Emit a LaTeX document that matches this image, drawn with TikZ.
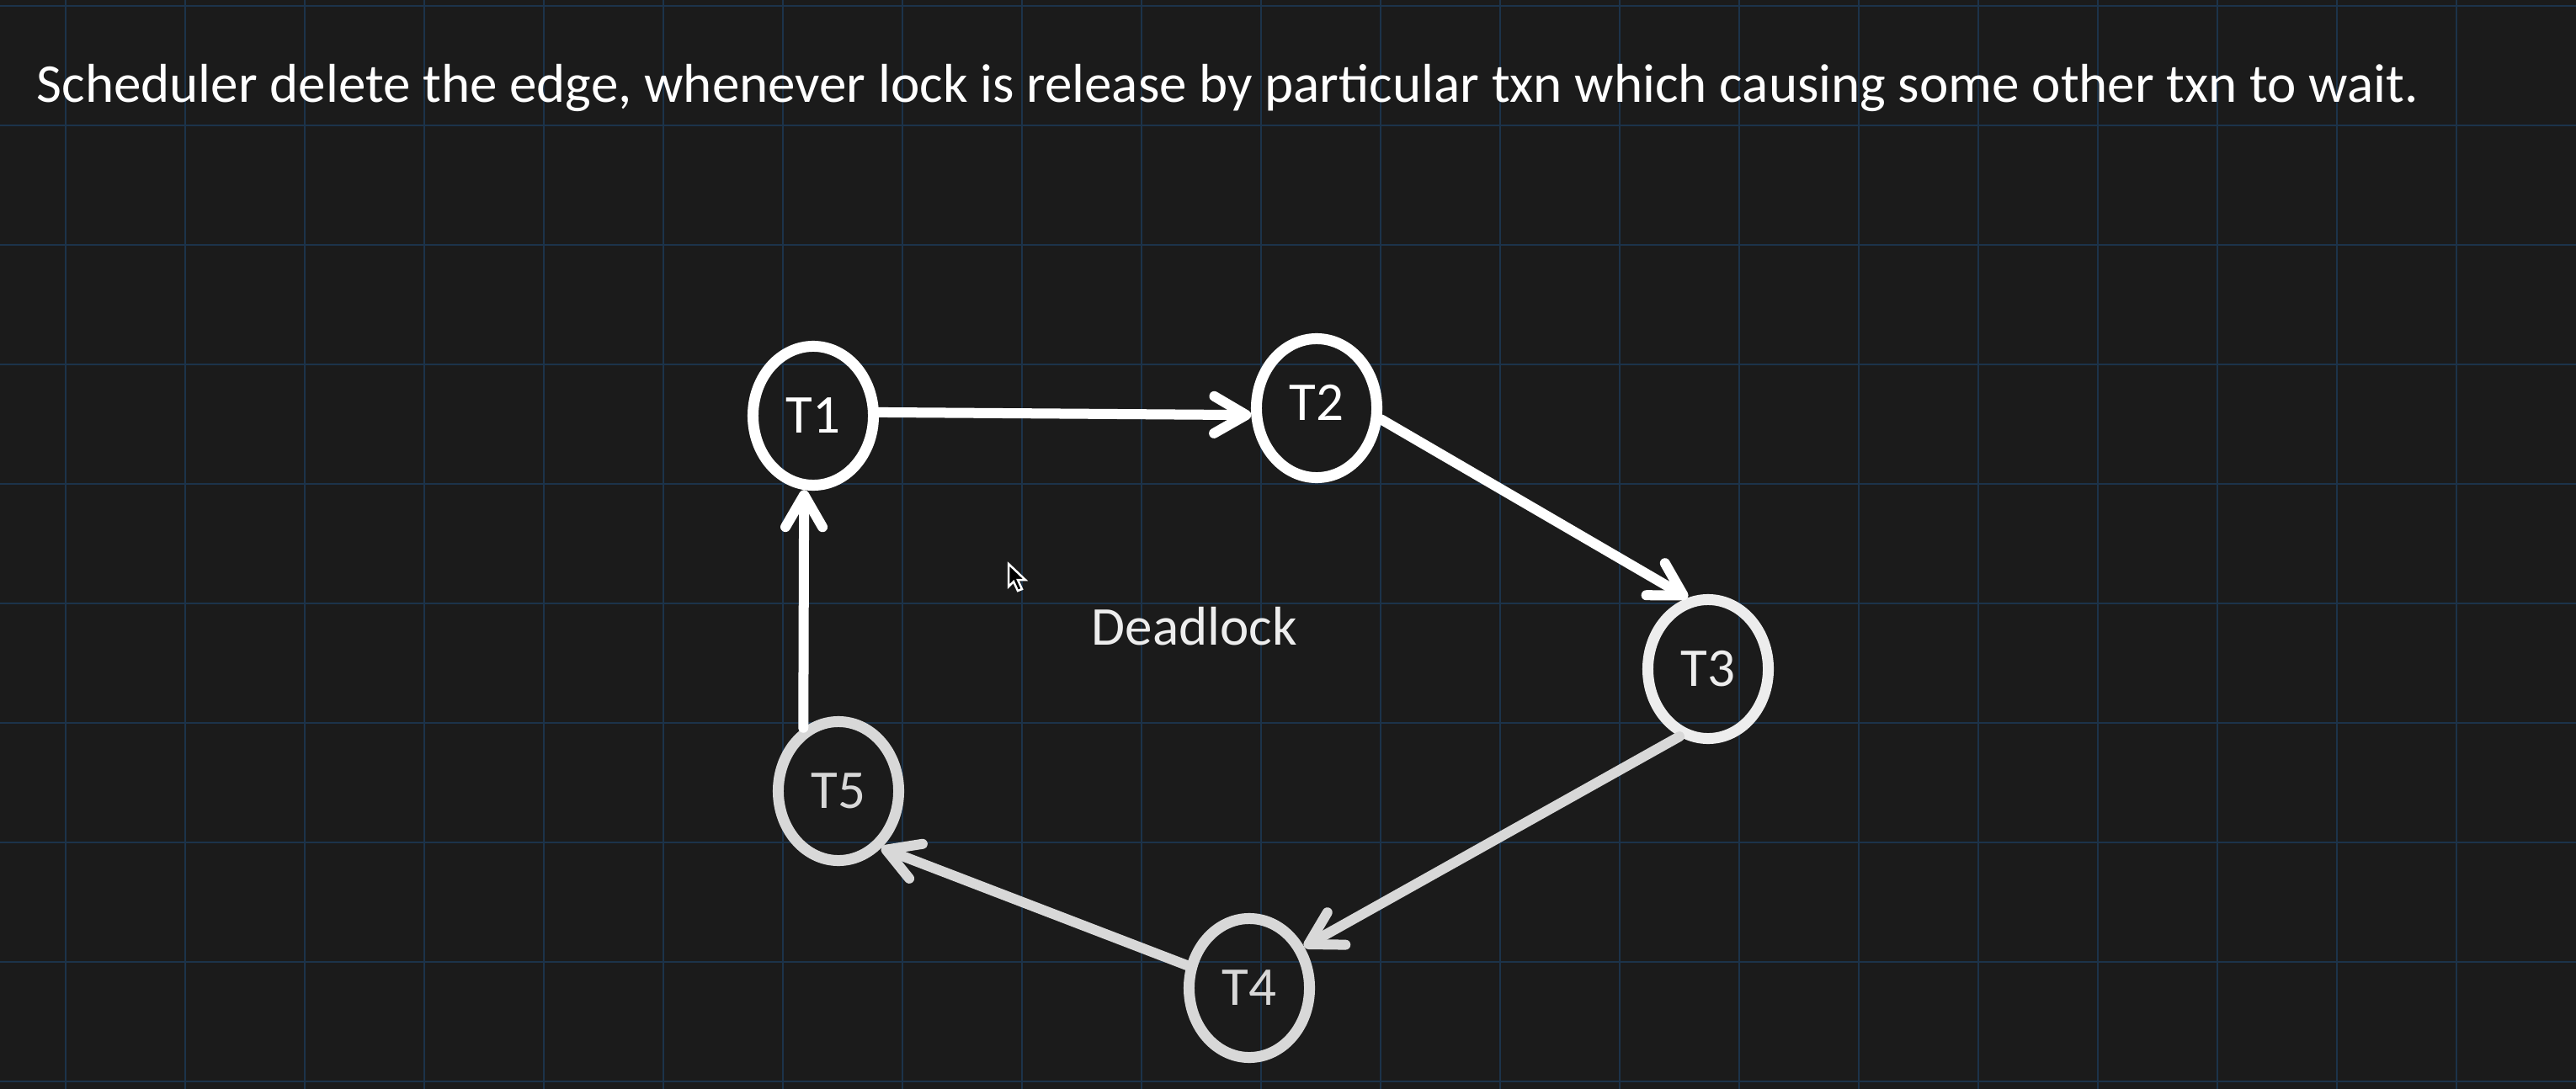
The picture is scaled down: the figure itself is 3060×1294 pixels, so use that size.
\documentclass[tikz,border=0pt]{standalone}
\usepackage{fontspec}
\setmainfont{Carlito}
\usetikzlibrary{shapes.geometric,arrows.meta}
\definecolor{bg}{HTML}{1B1B1B}
\definecolor{gridc}{HTML}{1C334A}
\definecolor{wA}{HTML}{FFFFFF}
\definecolor{wB}{HTML}{EDEDED}
\definecolor{wC}{HTML}{D8D8D8}
\begin{document}
\begin{tikzpicture}[x=0.01cm,y=-0.01cm,
  tnode/.style={ellipse, draw=#1, line width=0.13cm, minimum width=1.43cm,
    minimum height=1.65cm, inner sep=0pt, text=#1,
    font=\fontsize{18.5pt}{20pt}\selectfont},
  edge/.style={draw=#1, line width=0.12cm, line cap=round,
    -{Straight Barb[length=0.38cm,width=0.44cm,round]}},
  txt/.style={inner sep=0pt, text=#1, font=\fontsize{18.5pt}{20pt}\selectfont},
  gridline/.style={draw=gridc, line width=0.025cm}
]
\fill[bg] (0,0) rectangle (3060,1294);
\useasboundingbox (0,0) rectangle (3060,1294);
\foreach \i in {0,...,20} \draw[gridline] ({78+142*\i},0) -- ({78+142*\i},1294);
\foreach \j in {0,...,9} \draw[gridline] (0,{7+142*\j}) -- (3060,{7+142*\j});

\node[txt=wA, anchor=base west] (title) at (43,122)
  {Scheduler delete the edge, whenever lock is release by particular txn which causing some other txn to wait.};

\node[tnode=wA] (T1) at (966,494) {T1};
\node[tnode=wA] (T2) at (1564,485) {\raisebox{4pt}{T2}};
\node[tnode=wB] (T3) at (2029,795) {T3};
\node[tnode=wC] (T4) at (1484,1174) {T4};
\node[tnode=wC] (T5) at (996,940) {T5};

\node[txt=wB] (dl) at (1419,744) {Deadlock};

\draw[edge=wA] (T1.3) -- (T2.186);
\draw[edge=wA] (T2.-10) -- (T3.106);
\draw[edge=wC] (T3.247) -- (T4.37);
\draw[edge=wC] (T4.160) -- (T5.-53);
\draw[edge=wA] (T5.119) -- (T1.-97);

\draw[white, fill=black, line width=0.025cm, line join=miter]
  (1198,670) -- ++(0,27) -- ++(6,-6) -- ++(5,11) -- ++(5,-2) -- ++(-5,-11) -- ++(9,0) -- cycle;
\end{tikzpicture}
\end{document}
